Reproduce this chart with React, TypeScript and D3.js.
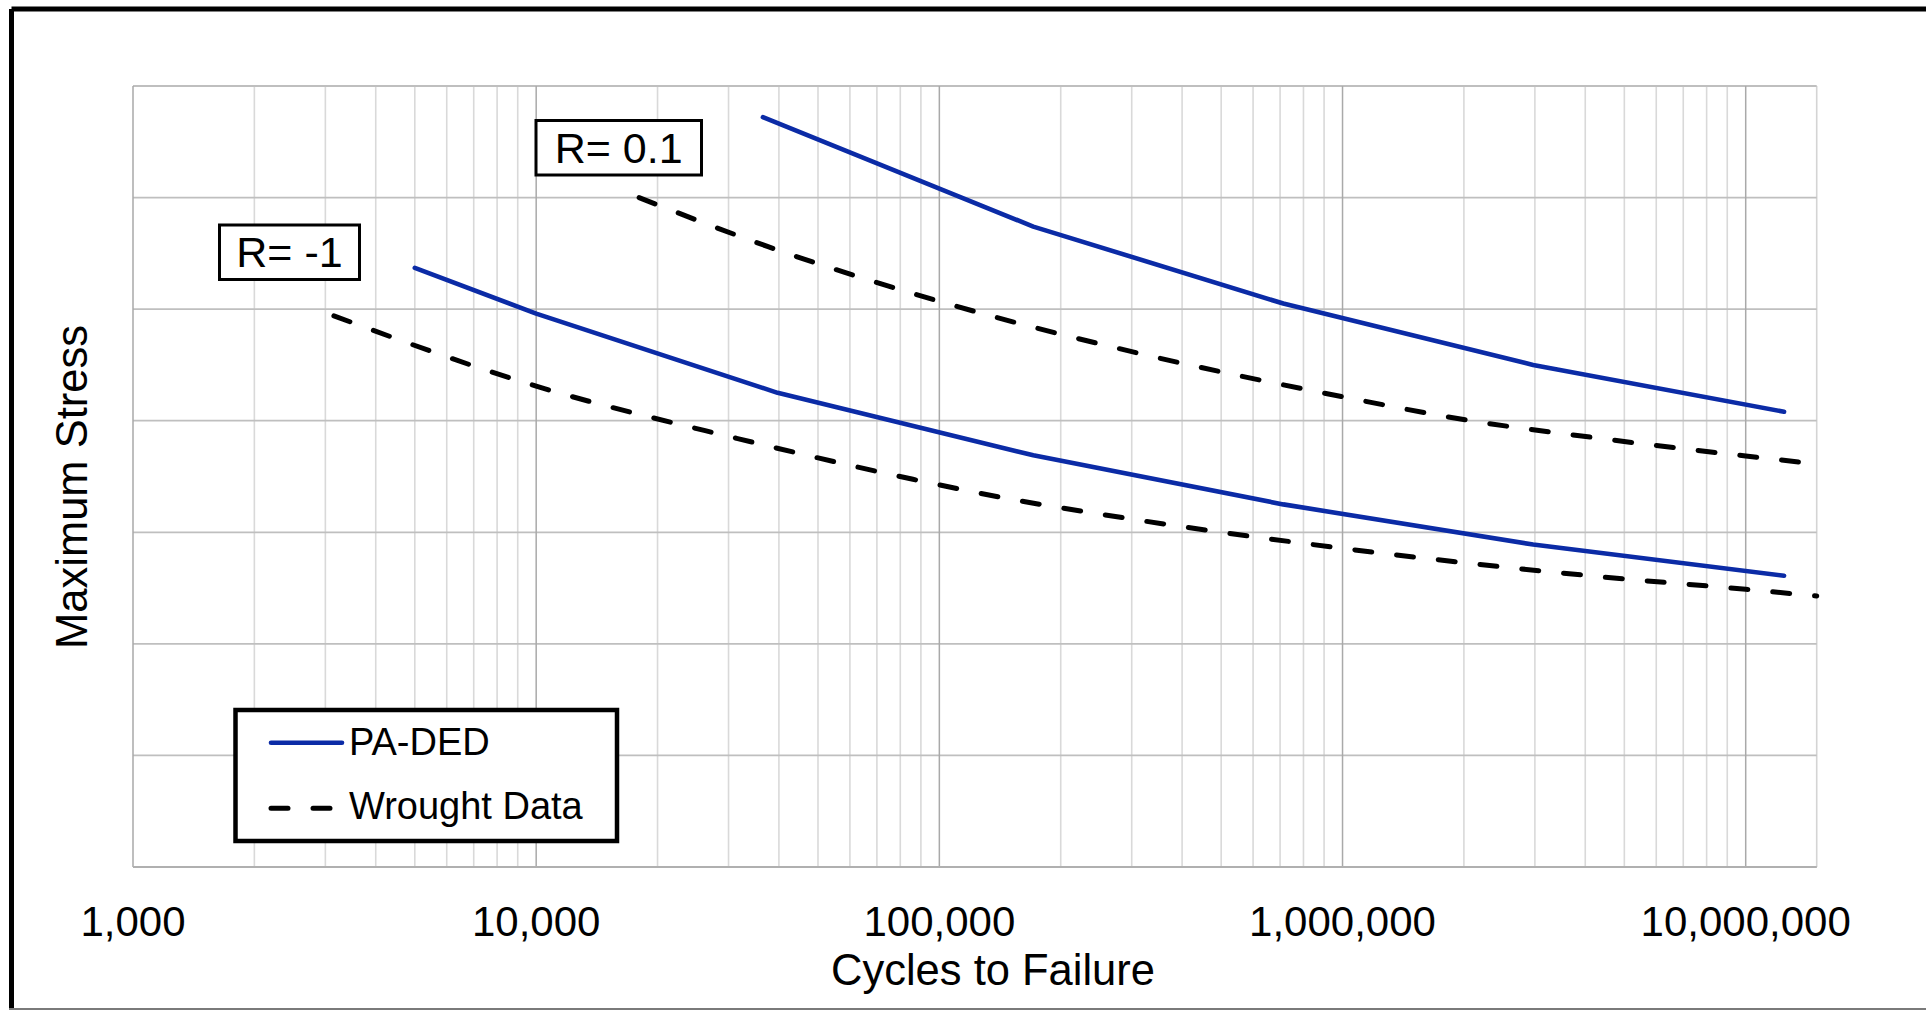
import React from "react";
import * as d3 from "d3";

// ---- data ----
const xTickValues = [1000, 10000, 100000, 1000000, 10000000];
const yGridValues = [0, 100, 200, 300, 400, 500, 600, 700];

const paR01Cycles = [36500, 171000, 713000, 2970000, 12450000];
const paR01Stress = [672, 574, 505, 450, 408];

const paRm1Cycles = [5000, 10000, 39700, 171000, 713000, 2970000, 12450000];
const paRm1Stress = [537, 496, 425, 369, 325, 289, 261];

const wrR01Cycles = [18000, 37600, 100000, 316000, 1000000, 2030000, 4340000, 10000000, 15000000];
const wrR01Stress = [600, 556, 507, 460, 421.5, 400.6, 384.2, 368.4, 361.2];

const wrRm1Cycles = [3150, 10000, 31600, 86000, 147000, 303000, 1000000, 4340000, 10000000, 15000000];
const wrRm1Stress = [494, 431, 384, 347.5, 330.4, 311.6, 285.6, 260.2, 248.9, 242.9];

const seriesNames = ["PA-DED", "Wrought Data"];
const rLabels = ["R= -1", "R= 0.1"];

const W = 1926;
const H = 1010;
const FONT = "'Liberation Sans', Arial, Helvetica, sans-serif";
const BLUE = "#0B2BA6";
const DASH = "17 25";

export default function App() {
  const x = d3.scaleLog().domain([1000, 15000000]).range([133, 1816.7]);
  const y = d3.scaleLinear().domain([0, 700]).range([867, 86]);

  const zip = (a: number[], b: number[]) => a.map((v, i) => [v, b[i]] as [number, number]);
  const lineLin = d3
    .line<[number, number]>()
    .x((d) => x(d[0]))
    .y((d) => y(d[1]));
  const lineSmooth = d3
    .line<[number, number]>()
    .x((d) => x(d[0]))
    .y((d) => y(d[1]))
    .curve(d3.curveMonotoneX);

  const minor: number[] = [];
  for (let e = 3; e <= 7; e++) {
    for (let k = 2; k <= 9; k++) {
      const v = k * Math.pow(10, e);
      if (v < 15000000) minor.push(v);
    }
  }
  const fmt = d3.format(",");
  const [x0, x1] = x.range();
  const [yb, yt] = y.range();

  return (
    <svg
      width={W}
      height={H}
      style={{ position: "absolute", left: 0, top: 0, display: "block", background: "#fff" }}
      fontFamily={FONT}
    >
      <rect x={0} y={0} width={W} height={H} fill="#fff" />
      <line x1={11.5} y1={9} x2={W + 5} y2={9} stroke="#000" strokeWidth={5} />
      <line x1={11.5} y1={9} x2={11.5} y2={H + 5} stroke="#000" strokeWidth={5} />
      <line x1={9} y1={1009} x2={W} y2={1009} stroke="#7a7a7a" strokeWidth={2} />

      {minor.map((v) => (
        <line key={"m" + v} x1={x(v)} x2={x(v)} y1={yt} y2={yb} stroke="#d9d9d9" strokeWidth={1.6} />
      ))}
      <line x1={x1} x2={x1} y1={yt} y2={yb} stroke="#d4d4d4" strokeWidth={1.6} />
      {yGridValues.map((v) => (
        <line key={"h" + v} x1={x0} x2={x1} y1={y(v)} y2={y(v)} stroke="#bfbfbf" strokeWidth={1.8} />
      ))}
      {xTickValues.map((v) => (
        <line key={"M" + v} x1={x(v)} x2={x(v)} y1={yt} y2={yb} stroke="#a9a9a9" strokeWidth={1.5} />
      ))}
      <line x1={x0} x2={x1} y1={yb} y2={yb} stroke="#b0b0b0" strokeWidth={1.8} />

      <path
        d={lineSmooth(zip(wrR01Cycles, wrR01Stress)) || ""}
        fill="none"
        stroke="#000"
        strokeWidth={5}
        strokeDasharray={DASH}
        strokeLinecap="round"
      />
      <path
        d={lineSmooth(zip(wrRm1Cycles, wrRm1Stress)) || ""}
        fill="none"
        stroke="#000"
        strokeWidth={5}
        strokeDasharray={DASH}
        strokeLinecap="round"
      />
      <path
        d={lineLin(zip(paR01Cycles, paR01Stress)) || ""}
        fill="none"
        stroke={BLUE}
        strokeWidth={4.6}
        strokeLinejoin="round"
        strokeLinecap="round"
      />
      <path
        d={lineLin(zip(paRm1Cycles, paRm1Stress)) || ""}
        fill="none"
        stroke={BLUE}
        strokeWidth={4.6}
        strokeLinejoin="round"
        strokeLinecap="round"
      />

      <rect x={219.5} y={225} width={140} height={54.5} fill="#fff" stroke="#000" strokeWidth={3} />
      <text x={289.5} y={267} fontSize={43} textAnchor="middle" fill="#000">
        {rLabels[0]}
      </text>
      <rect x={536} y={120.5} width={165.5} height={54.5} fill="#fff" stroke="#000" strokeWidth={3} />
      <text x={618.7} y={162.5} fontSize={43} textAnchor="middle" fill="#000">
        {rLabels[1]}
      </text>

      <rect x={235.5} y={710} width={381.5} height={131} fill="#fff" stroke="#000" strokeWidth={4.5} />
      <line x1={271} x2={342} y1={742.7} y2={742.7} stroke={BLUE} strokeWidth={4.6} strokeLinecap="round" />
      <text x={349} y={755} fontSize={38} fill="#000">
        {seriesNames[0]}
      </text>
      <line
        x1={271}
        x2={336}
        y1={808.3}
        y2={808.3}
        stroke="#000"
        strokeWidth={5}
        strokeDasharray={DASH}
        strokeLinecap="round"
      />
      <text x={349} y={818.5} fontSize={38} fill="#000">
        {seriesNames[1]}
      </text>

      {xTickValues.map((v) => (
        <text key={"t" + v} x={x(v)} y={936} fontSize={42} textAnchor="middle" fill="#000">
          {fmt(v)}
        </text>
      ))}
      <text x={993} y={985} fontSize={43.5} textAnchor="middle" fill="#000">
        Cycles to Failure
      </text>
      <text transform={`translate(87,487) rotate(-90)`} fontSize={43.5} textAnchor="middle" fill="#000">
        Maximum Stress
      </text>
    </svg>
  );
}
